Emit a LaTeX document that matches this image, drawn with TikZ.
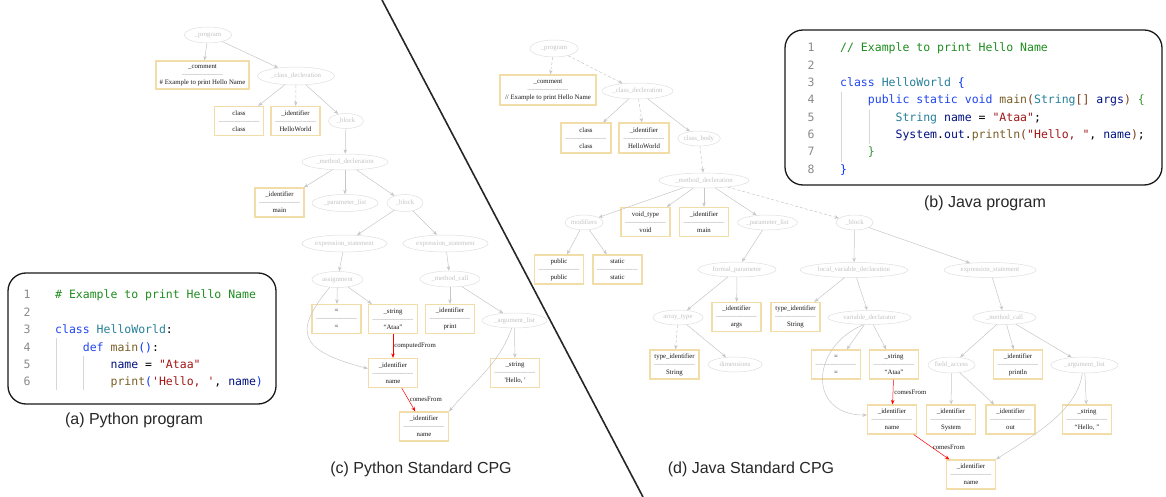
\documentclass[tikz,border=0pt]{standalone}
\usepackage{fontspec}
\setmainfont{Liberation Serif}
\setmonofont{DejaVu Sans Mono}
\newfontfamily\capfont{Liberation Sans}
\usetikzlibrary{shapes.geometric,arrows.meta}
\definecolor{elb}{HTML}{DEDEDE}
\definecolor{elt}{HTML}{C2C2C2}
\definecolor{bxb}{HTML}{F2DCA8}
\definecolor{edg}{HTML}{C6C6C6}
\definecolor{tld}{HTML}{7A7A7A}
\definecolor{lnc}{HTML}{8A8A8A}
\definecolor{cmt}{HTML}{1E8C1E}
\definecolor{kw}{HTML}{1F45F0}
\definecolor{ty}{HTML}{267F99}
\definecolor{fn}{HTML}{795E26}
\definecolor{vr}{HTML}{001080}
\definecolor{st}{HTML}{A31515}
\definecolor{br}{HTML}{0431FA}
\definecolor{bg}{HTML}{319331}
\definecolor{bb}{HTML}{7B3814}
\definecolor{gd}{HTML}{D6D6D6}
\newcommand\wvy{{\color{tld}\fontsize{5}{8}\selectfont\textasciitilde\textasciitilde\textasciitilde\textasciitilde\textasciitilde\textasciitilde\textasciitilde\textasciitilde\textasciitilde\textasciitilde\textasciitilde\textasciitilde\textasciitilde\textasciitilde\textasciitilde}}
\tikzset{
  el/.style 2 args={ellipse, draw=elb, line width=0.5pt, text=elt, minimum width=#1, minimum height=#2, inner sep=0pt, font=\fontsize{6.8}{8}\selectfont},
  bx/.style={draw=bxb, line width=1.2pt, fill=white, minimum width=49, minimum height=29, inner sep=0pt, align=center, text=black!90, font=\fontsize{6.8}{8}\selectfont},
  ed/.style={draw=edg, line width=0.5pt, -{Stealth[length=4.5pt,width=3.5pt]}},
  de/.style={ed, dash pattern=on 3pt off 2pt},
  rd/.style={draw=red, line width=0.5pt, -{Stealth[length=4.5pt,width=3.5pt]}},
  lb/.style={font=\fontsize{6.8}{8}\selectfont, text=black!90, inner sep=1pt},
  lnum/.style={anchor=base, text=lnc, inner sep=0pt, font=\ttfamily\fontsize{11.5}{12}\selectfont},
  cd/.style={anchor=base west, inner sep=0pt, font=\ttfamily\fontsize{11.5}{12}\selectfont},
  captext/.style={font=\capfont\fontsize{16}{18}\selectfont, text=black!85},
  panel/.style={draw=black!90, line width=1.3pt, rounded corners=18pt},
  guide/.style={draw=gd, line width=0.8pt},
}
\begin{document}
\begin{tikzpicture}[x=1pt,y=-1pt]
\useasboundingbox (0,0) rectangle (1166,497);

% ---------- divider ----------
\draw[line width=1.6pt, black!85] (382,0) -- (643,497);

% ---------- (a) Python program ----------
\draw[panel] (8,273) rectangle (276,404);
\draw[guide] (56,338) -- (56,390);
\draw[guide] (83,356) -- (83,390);
\foreach \n/\y in {1/294,2/312,3/329,4/347,5/364,6/381}
  \node[lnum] (pl\n) at (27,\y+4) {\n};
\node[cd] (pc1) at (55,298) {{\color{cmt}\# Example to print Hello Name}};
\node[cd] (pc3) at (55,333) {{\color{kw}class} {\color{ty}HelloWorld}:};
\node[cd] (pc4) at (82.7,351) {{\color{kw}def} {\color{fn}main}{\color{br}()}:};
\node[cd] (pc5) at (110.4,368) {{\color{vr}name} = {\color{st}"Ataa"}};
\node[cd] (pc6) at (110.4,385) {{\color{fn}print}{\color{br}(}{\color{st}'Hello, '}, {\color{vr}name}{\color{br})}};
\node[captext] (capa) at (134,420) {(a) Python program};

% ---------- (b) Java program ----------
\draw[panel] (785,30) rectangle (1162,185);
\draw[guide] (841,92) -- (841,162);
\draw[guide] (869,110) -- (869,144);
\foreach \n/\y in {1/48,2/66,3/83,4/100,5/118,6/135,7/152,8/170}
  \node[lnum] (jl\n) at (811,\y+4) {\n};
\node[cd] (jc1) at (840,52) {{\color{cmt}// Example to print Hello Name}};
\node[cd] (jc3) at (840,87) {{\color{kw}class} {\color{ty}HelloWorld} {\color{br}\{}};
\node[cd] (jc4) at (867.7,104) {{\color{kw}public static void} {\color{fn}main}{\color{bb}(}{\color{ty}String}{\color{bb}[]} {\color{vr}args}{\color{bb})} {\color{bg}\{}};
\node[cd] (jc5) at (895.4,122) {{\color{ty}String} {\color{vr}name} = {\color{st}"Ataa"};};
\node[cd] (jc6) at (895.4,139) {{\color{vr}System}.{\color{vr}out}.{\color{fn}println}{\color{bb}(}{\color{st}"Hello, "}, {\color{vr}name}{\color{bb})};};
\node[cd] (jc7) at (867.7,156) {{\color{bg}\}}};
\node[cd] (jc8) at (840,174) {{\color{br}\}}};
\node[captext] (capb) at (985,203) {(b) Java program};

% ---------- (c) Python Standard CPG ----------
\node[el={47}{16}] (p_prog) at (208,35) {\_program};
\node[bx, minimum width=93, minimum height=28] (p_com) at (202.5,75) {\_comment\\\wvy\\\# Example to print Hello Name};
\node[el={77}{18}] (p_cls) at (296,76) {\_class\_decleration};
\node[bx] (p_kcl) at (239,121) {class\\\wvy\\class};
\node[bx] (p_id1) at (295.5,121) {\_identifier\\\wvy\\HelloWorld};
\node[el={35}{15}] (p_blk1) at (346,121) {\_block};
\node[el={86}{16}] (p_md) at (345,162) {\_method\_decleration};
\node[bx] (p_idm) at (279.5,202.5) {\_identifier\\\wvy\\main};
\node[el={66}{17}] (p_par) at (345,203) {\_parameter\_list};
\node[el={36}{17}] (p_blk2) at (405,203) {\_block};
\node[el={85}{17}] (p_es1) at (344.5,243.5) {expression\_statement};
\node[el={85}{17}] (p_es2) at (445.5,243.5) {expression\_statement};
\node[el={51}{16}] (p_asg) at (337.5,279.5) {assignment};
\node[el={60}{16}] (p_mc) at (450,279) {\_method\_call};
\node[bx] (p_eq) at (336.5,319) {=\\\wvy\\=};
\node[bx] (p_str) at (393,319) {\_string\\\wvy\\``Ataa''};
\node[bx] (p_prt) at (450,319) {\_identifier\\\wvy\\print};
\node[el={65}{15}] (p_arg) at (514.5,320.5) {\_argument\_list};
\node[bx] (p_nm1) at (393,373) {\_identifier\\\wvy\\name};
\node[bx] (p_hel) at (515,373) {\_string\\\wvy\\{\textquotesingle}Hello, {\textquotesingle}};
\node[bx] (p_nm2) at (424,426.5) {\_identifier\\\wvy\\name};

\draw[ed] (p_prog) -- (p_com);
\draw[ed] (p_prog) -- (p_cls);
\draw[ed] (p_cls) -- (p_kcl);
\draw[de] (p_cls) -- (p_id1);
\draw[ed] (p_cls) -- (p_blk1);
\draw[ed] (p_blk1) -- (p_md);
\draw[ed] (p_md) -- (p_idm);
\draw[ed] (p_md) -- (p_par);
\draw[ed] (p_md) -- (p_blk2);
\draw[ed] (p_blk2) -- (p_es1);
\draw[ed] (p_blk2) -- (p_es2);
\draw[ed] (p_es1) -- (p_asg);
\draw[ed] (p_es2) -- (p_mc);
\draw[ed] (p_asg) -- (p_eq);
\draw[ed] (p_asg) -- (p_str);
\draw[ed] (p_asg.225) .. controls +(-37,45) and +(-69,-18) .. (p_nm1.170);
\draw[ed] (p_mc) -- (p_prt);
\draw[ed] (p_mc) -- (p_arg);
\draw[ed] (p_arg) -- (p_hel);
\draw[ed] (p_arg.250) .. controls +(-12,35) and +(25,-30) .. (p_nm2.north east);
\draw[rd] (p_str) -- node[lb,right] (l_cf) {computedFrom} (p_nm1);
\draw[rd] (p_nm1) -- node[lb,right] (l_pc) {comesFrom} (p_nm2);
\node[captext] (capc) at (421,469) {(c) Python Standard CPG};

% ---------- (d) Java Standard CPG ----------
\node[el={48}{17}] (j_prog) at (554,48.5) {\_program};
\node[bx, minimum width=96, minimum height=30] (j_com) at (548,90) {\_comment\\\wvy\\// Example to print Hello Name};
\node[el={67}{16}] (j_cls) at (637.5,91) {\_class\_decleration};
\node[bx, minimum width=50, minimum height=30] (j_kcl) at (586,138) {class\\\wvy\\class};
\node[bx, minimum width=50, minimum height=30] (j_id1) at (644,138) {\_identifier\\\wvy\\HelloWorld};
\node[el={42}{15}] (j_cb) at (699,138.5) {class\_body};
\node[el={90}{15}] (j_md) at (704,180.5) {\_method\_decleration};
\node[el={38}{15}] (j_mod) at (584,222.5) {modifiers};
\node[bx] (j_vt) at (645.5,222) {void\_type\\\wvy\\void};
\node[bx] (j_idm) at (704,222) {\_identifier\\\wvy\\main};
\node[el={59}{15}] (j_par) at (767.5,222.5) {\_parameter\_list};
\node[el={37}{15}] (j_blk) at (854.5,222.5) {\_block};
\node[bx] (j_pub) at (559,269.5) {public\\\wvy\\public};
\node[bx] (j_sta) at (617.5,269.5) {static\\\wvy\\static};
\node[el={78}{15}] (j_fp) at (737,269.5) {formal\_parameter};
\node[el={108}{15}] (j_lvd) at (854,270) {local\_variable\_declaration};
\node[el={92}{15}] (j_es) at (990,270) {expression\_statement};
\node[el={50}{15}] (j_at) at (678,317.5) {array\_type};
\node[bx] (j_arg) at (736.5,317) {\_identifier\\\wvy\\args};
\node[bx] (j_ti1) at (795.5,317) {type\_identifier\\\wvy\\String};
\node[el={83}{14}] (j_vd) at (869.5,317.5) {variable\_declarator};
\node[el={63}{14}] (j_mc) at (1004.5,317.5) {\_method\_call};
\node[bx] (j_ti2) at (674.5,364.5) {type\_identifier\\\wvy\\String};
\node[el={54}{15}] (j_dim) at (735,364.5) {dimensions};
\node[bx] (j_eq) at (836,364.5) {=\\\wvy\\=};
\node[bx] (j_str) at (894,364.5) {\_string\\\wvy\\``Ataa''};
\node[el={47}{16}] (j_fa) at (951.5,365) {field\_access};
\node[bx] (j_prn) at (1018,364.5) {\_identifier\\\wvy\\println};
\node[el={67}{16}] (j_al) at (1084.5,365) {\_argument\_list};
\node[bx] (j_nm1) at (892,419.5) {\_identifier\\\wvy\\name};
\node[bx] (j_sys) at (951,419.5) {\_identifier\\\wvy\\System};
\node[bx] (j_out) at (1010.5,419.5) {\_identifier\\\wvy\\out};
\node[bx] (j_hel) at (1087,419.5) {\_string\\\wvy\\``Hello, ''};
\node[bx] (j_nm2) at (971,474.5) {\_identifier\\\wvy\\name};

\draw[de] (j_prog) -- (j_com);
\draw[de] (j_prog) -- (j_cls);
\draw[ed] (j_cls) -- (j_kcl);
\draw[de] (j_cls) -- (j_id1);
\draw[ed] (j_cls) -- (j_cb);
\draw[de] (j_cb) -- (j_md);
\draw[ed] (j_md) -- (j_mod);
\draw[ed] (j_md) -- (j_vt);
\draw[ed] (j_md) -- (j_idm);
\draw[ed] (j_md) -- (j_par);
\draw[de] (j_md) -- (j_blk);
\draw[ed] (j_mod) -- (j_pub);
\draw[ed] (j_mod) -- (j_sta);
\draw[ed] (j_par) -- (j_fp);
\draw[ed] (j_fp) -- (j_at);
\draw[ed] (j_fp) -- (j_arg);
\draw[de] (j_at) -- (j_ti2);
\draw[ed] (j_at) -- (j_dim);
\draw[ed] (j_blk) -- (j_lvd);
\draw[ed] (j_blk) -- (j_es);
\draw[ed] (j_lvd) -- (j_ti1);
\draw[ed] (j_lvd) -- (j_vd);
\draw[ed] (j_es) -- (j_mc);
\draw[ed] (j_vd) -- (j_eq);
\draw[ed] (j_vd) -- (j_str);
\draw[ed] (j_vd.230) .. controls +(-53,22) and +(-60,0) .. (j_nm1.170);
\draw[ed] (j_mc) -- (j_fa);
\draw[ed] (j_mc) -- (j_prn);
\draw[ed] (j_mc) -- (j_al);
\draw[ed] (j_fa) -- (j_sys);
\draw[ed] (j_fa) -- (j_out);
\draw[ed] (j_al) -- (j_hel);
\draw[ed] (j_al.255) .. controls +(-5,40) and +(30,-20) .. (j_nm2.north east);
\draw[rd] (j_str) -- node[lb,right] (l_jc1) {comesFrom} (j_nm1);
\draw[rd] (j_nm1) -- node[lb,right] (l_jc2) {comesFrom} (j_nm2);
\node[captext] (capd) at (751,469) {(d) Java Standard CPG};
\end{tikzpicture}
\end{document}
